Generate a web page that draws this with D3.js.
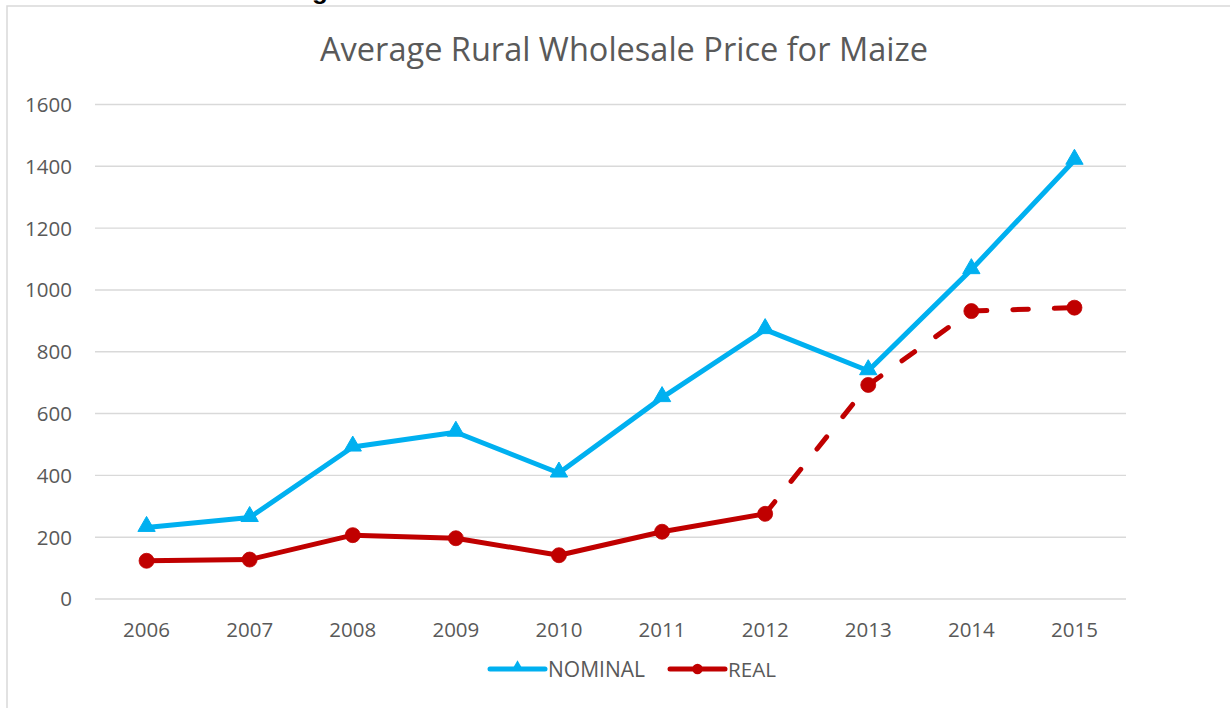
<!DOCTYPE html>
<html>
<head>
<meta charset="utf-8">
<script src="https://cdn.jsdelivr.net/npm/d3@7"></script>
<style>
  html, body { margin: 0; padding: 0; background: #ffffff; }
  svg { display: block; }
</style>
</head>
<body>
<svg id="chart" width="1230" height="708"></svg>
<script>
const titleText = "Average Rural Wholesale Price for Maize";
const years = ["2006", "2007", "2008", "2009", "2010", "2011", "2012", "2013", "2014", "2015"];
const nominal = [230, 262, 490, 538, 406, 650, 870, 737, 1064, 1418];
const real = [122, 126, 205, 195, 140, 216, 274, 691, 930, 941];
const yTicks = [0, 200, 400, 600, 800, 1000, 1200, 1400, 1600];
const seriesNames = ["NOMINAL", "REAL"];
const realDashedFromYear = "2012";

const FONT = "'Open Sans', 'Noto Sans', sans-serif";
const TEXT = "#595959";
const GRID = "#d9d9d9";
const BLUE = "#00b0f0";
const RED = "#c00000";

const svg = d3.select("#chart");

// cut-off heading descender above chart
svg.append("text").attr("x", 320).attr("y", -1)
  .attr("text-anchor", "middle").attr("font-family", "'Liberation Sans', sans-serif")
  .attr("font-weight", "bold").attr("font-size", 26).attr("fill", "#000").text("g");

// chart area border
svg.append("rect").attr("x", 7).attr("y", 6).attr("width", 1400).attr("height", 900)
  .attr("fill", "#fff").attr("stroke", GRID).attr("stroke-width", 1.5);

const x = d3.scaleBand().domain(years).range([95, 1126]);
const y = d3.scaleLinear().domain([0, 1600]).range([598.5, 104]);
const cx = d => x(d) + x.bandwidth() / 2;

function fitText(sel, width) {
  const fs = +sel.attr("font-size");
  const w = sel.node().getComputedTextLength();
  sel.attr("font-size", fs * width / w);
}

// title
const title = svg.append("text").attr("x", 624).attr("y", 61)
  .attr("text-anchor", "middle").attr("font-family", FONT).attr("font-size", 30)
  .attr("fill", TEXT).text(titleText);
fitText(title, 608);

// gridlines + y axis labels
const yAxis = d3.axisLeft(y).tickValues(yTicks).tickSize(-(1126 - 95)).tickPadding(23).tickFormat(d3.format("d"));
const gy = svg.append("g").attr("transform", "translate(95,0)").call(yAxis);
gy.select(".domain").remove();
gy.selectAll(".tick line").attr("stroke", GRID).attr("stroke-width", 1.4);
gy.selectAll(".tick text").attr("font-family", FONT).attr("font-size", 20.5)
  .attr("fill", TEXT).attr("dy", "0.36em");

// x axis labels
const xAxis = d3.axisBottom(x).tickSize(0).tickPadding(24);
const gx = svg.append("g").attr("transform", `translate(0,${y(0)})`).call(xAxis);
gx.select(".domain").remove();
gx.selectAll(".tick text").attr("font-family", FONT).attr("font-size", 20.5)
  .attr("fill", TEXT).attr("dy", "0.71em");

// nominal series
const lineGen = d3.line().x((d, i) => cx(years[i])).y(d => y(d));
svg.append("path").datum(nominal).attr("d", lineGen)
  .attr("fill", "none").attr("stroke", BLUE).attr("stroke-width", 5)
  .attr("stroke-linejoin", "round").attr("stroke-linecap", "round");

const tri = d3.symbol().type(d3.symbolTriangle).size(130);
svg.append("g").selectAll("path").data(nominal).join("path")
  .attr("d", tri)
  .attr("transform", (d, i) => `translate(${cx(years[i])},${y(d) - 1})`)
  .attr("fill", BLUE).attr("stroke", BLUE).attr("stroke-width", 1);

// real series: solid up to realDashedFromYear, dashed per segment afterwards
const dashIdx = years.indexOf(realDashedFromYear);
svg.append("path").datum(real.slice(0, dashIdx + 1)).attr("d", lineGen)
  .attr("fill", "none").attr("stroke", RED).attr("stroke-width", 5)
  .attr("stroke-linejoin", "round").attr("stroke-linecap", "round");
const segs = d3.range(dashIdx, real.length - 1);
svg.append("g").selectAll("line").data(segs).join("line")
  .attr("x1", i => cx(years[i])).attr("y1", i => y(real[i]))
  .attr("x2", i => cx(years[i + 1])).attr("y2", i => y(real[i + 1]))
  .attr("stroke", RED).attr("stroke-width", 5)
  .attr("stroke-linecap", "round").attr("stroke-dasharray", "15.5 26");

svg.append("g").selectAll("circle").data(real).join("circle")
  .attr("cx", (d, i) => cx(years[i])).attr("cy", d => y(d)).attr("r", 7.5)
  .attr("fill", RED).attr("stroke", RED).attr("stroke-width", 0.8);

// legend
const legend = svg.append("g");
const legendItems = [
  { name: seriesNames[0], color: BLUE, x0: 490, type: "tri", textW: 97 },
  { name: seriesNames[1], color: RED, x0: 670, type: "circ", textW: 48 }
];
legendItems.forEach(it => {
  const g = legend.append("g");
  g.append("line").attr("x1", it.x0).attr("x2", it.x0 + 55).attr("y1", 669).attr("y2", 669)
    .attr("stroke", it.color).attr("stroke-width", 5).attr("stroke-linecap", "round");
  if (it.type === "tri") {
    g.append("path").attr("d", d3.symbol().type(d3.symbolTriangle).size(60))
      .attr("transform", `translate(${it.x0 + 27.5},667)`).attr("fill", it.color);
  } else {
    g.append("circle").attr("cx", it.x0 + 27.5).attr("cy", 669).attr("r", 5.2).attr("fill", it.color);
  }
  const t = g.append("text").attr("x", it.x0 + 58).attr("y", 677)
    .attr("font-family", FONT).attr("font-size", 20.5).attr("fill", TEXT).text(it.name);
  fitText(t, it.textW);
});
</script>
</body>
</html>
